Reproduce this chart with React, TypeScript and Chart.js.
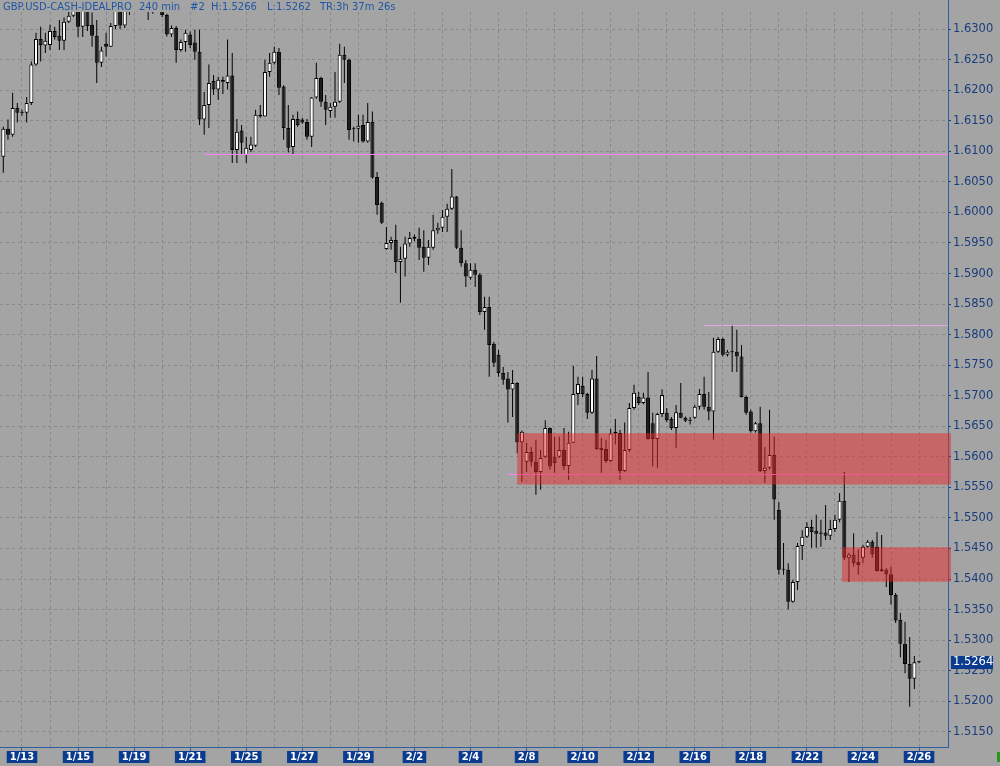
import React, { useEffect, useRef } from 'react';
import { Chart, registerables } from 'chart.js';
Chart.register(...registerables);

// ---- Data (240-min bars, GBP/USD) ----
const opens = [
  1.6091, 1.6137, 1.6127, 1.6171, 1.6163, 1.6163, 1.6179, 1.6242, 1.6284, 1.6273,
  1.6274, 1.6297, 1.6289, 1.6281, 1.6312, 1.6322, 1.6345, 1.6304, 1.6340, 1.6307,
  1.6289, 1.6245, 1.6276, 1.6271, 1.6305, 1.6338, 1.6306, 1.6345, 1.6338, 1.6360,
  1.6385, 1.6372, 1.6350, 1.6368, 1.6355, 1.6323, 1.6291, 1.6302, 1.6266, 1.6279,
  1.6291, 1.6278, 1.6263, 1.6152, 1.6176, 1.6215, 1.6201, 1.6217, 1.6212, 1.6224,
  1.6102, 1.6134, 1.6094, 1.6102, 1.6109, 1.6160, 1.6157, 1.6230, 1.6245, 1.6263,
  1.6206, 1.6138, 1.6107, 1.6153, 1.6152, 1.6148, 1.6124, 1.6188, 1.6220, 1.6181,
  1.6166, 1.6173, 1.6181, 1.6258, 1.6250, 1.6137, 1.6137, 1.6143, 1.6116, 1.6148,
  1.6058, 1.6016, 1.5940, 1.5950, 1.5955, 1.5919, 1.5924, 1.5949, 1.5960, 1.5957,
  1.5944, 1.5926, 1.5942, 1.5971, 1.5975, 1.5993, 1.6006, 1.6026, 1.5942, 1.5917,
  1.5893, 1.5906, 1.5898, 1.5837, 1.5845, 1.5785, 1.5767, 1.5737, 1.5728, 1.5710,
  1.5721, 1.5624, 1.5592, 1.5608, 1.5592, 1.5575, 1.5600, 1.5647, 1.5600, 1.5600,
  1.5611, 1.5585, 1.5623, 1.5703, 1.5716, 1.5703, 1.5672, 1.5728, 1.5615, 1.5613,
  1.5593, 1.5638, 1.5639, 1.5577, 1.5611, 1.5680, 1.5698, 1.5688, 1.5697, 1.5655,
  1.5629, 1.5670, 1.5672, 1.5662, 1.5647, 1.5672, 1.5664, 1.5660, 1.5664, 1.5682,
  1.5703, 1.5682, 1.5674, 1.5772, 1.5793, 1.5767, 1.5772, 1.5772, 1.5764, 1.5698,
  1.5674, 1.5642, 1.5655, 1.5577, 1.5582, 1.5603, 1.5513, 1.5416, 1.5415, 1.5363,
  1.5395, 1.5454, 1.5469, 1.5485, 1.5479, 1.5474, 1.5476, 1.5471, 1.5482, 1.5497,
  1.5528, 1.5435, 1.5440, 1.5428, 1.5435, 1.5453, 1.5461, 1.5453, 1.5416, 1.5415,
  1.5408, 1.5374, 1.5333, 1.5294, 1.5261, 1.5237, 1.5264,
];
const highs = [
  1.6140, 1.6152, 1.6196, 1.6179, 1.6168, 1.6189, 1.6247, 1.6294, 1.6304, 1.6294,
  1.6307, 1.6304, 1.6315, 1.6319, 1.6335, 1.6345, 1.6352, 1.6350, 1.6348, 1.6327,
  1.6315, 1.6271, 1.6294, 1.6310, 1.6348, 1.6345, 1.6350, 1.6360, 1.6370, 1.6400,
  1.6410, 1.6390, 1.6380, 1.6385, 1.6365, 1.6325, 1.6306, 1.6305, 1.6283, 1.6299,
  1.6296, 1.6299, 1.6299, 1.6197, 1.6242, 1.6225, 1.6222, 1.6222, 1.6283, 1.6261,
  1.6153, 1.6143, 1.6124, 1.6124, 1.6168, 1.6176, 1.6250, 1.6261, 1.6271, 1.6269,
  1.6208, 1.6176, 1.6160, 1.6165, 1.6155, 1.6153, 1.6189, 1.6245, 1.6222, 1.6192,
  1.6179, 1.6230, 1.6276, 1.6271, 1.6252, 1.6140, 1.6160, 1.6160, 1.6179, 1.6165,
  1.6066, 1.6018, 1.5976, 1.5960, 1.5980, 1.5944, 1.5960, 1.5968, 1.5964, 1.5975,
  1.5971, 1.5955, 1.5996, 1.5983, 1.6004, 1.6014, 1.6071, 1.6027, 1.5971, 1.5922,
  1.5917, 1.5917, 1.5901, 1.5862, 1.5862, 1.5788, 1.5775, 1.5747, 1.5739, 1.5742,
  1.5722, 1.5643, 1.5623, 1.5616, 1.5628, 1.5611, 1.5660, 1.5648, 1.5633, 1.5633,
  1.5647, 1.5641, 1.5749, 1.5731, 1.5731, 1.5705, 1.5742, 1.5765, 1.5631, 1.5628,
  1.5646, 1.5662, 1.5644, 1.5656, 1.5688, 1.5718, 1.5706, 1.5705, 1.5739, 1.5672,
  1.5672, 1.5710, 1.5680, 1.5665, 1.5685, 1.5721, 1.5666, 1.5665, 1.5685, 1.5711,
  1.5731, 1.5706, 1.5795, 1.5796, 1.5795, 1.5775, 1.5816, 1.5808, 1.5783, 1.5700,
  1.5677, 1.5657, 1.5682, 1.5616, 1.5677, 1.5633, 1.5526, 1.5459, 1.5426, 1.5399,
  1.5459, 1.5480, 1.5493, 1.5497, 1.5505, 1.5497, 1.5521, 1.5497, 1.5505, 1.5541,
  1.5575, 1.5443, 1.5475, 1.5448, 1.5456, 1.5464, 1.5464, 1.5477, 1.5472, 1.5418,
  1.5420, 1.5377, 1.5345, 1.5330, 1.5305, 1.5274, 1.5266,
];
const lows = [
  1.6065, 1.6119, 1.6124, 1.6147, 1.6158, 1.6147, 1.6176, 1.6240, 1.6247, 1.6261,
  1.6266, 1.6283, 1.6266, 1.6266, 1.6310, 1.6320, 1.6287, 1.6287, 1.6297, 1.6271,
  1.6212, 1.6238, 1.6255, 1.6271, 1.6300, 1.6300, 1.6302, 1.6323, 1.6332, 1.6350,
  1.6360, 1.6315, 1.6325, 1.6335, 1.6320, 1.6288, 1.6287, 1.6245, 1.6263, 1.6263,
  1.6269, 1.6250, 1.6143, 1.6127, 1.6138, 1.6192, 1.6184, 1.6194, 1.6201, 1.6081,
  1.6081, 1.6094, 1.6081, 1.6099, 1.6107, 1.6155, 1.6157, 1.6222, 1.6242, 1.6192,
  1.6119, 1.6098, 1.6094, 1.6140, 1.6145, 1.6119, 1.6107, 1.6186, 1.6173, 1.6143,
  1.6155, 1.6155, 1.6179, 1.6212, 1.6119, 1.6116, 1.6114, 1.6114, 1.6114, 1.6055,
  1.5996, 1.5981, 1.5939, 1.5939, 1.5901, 1.5852, 1.5895, 1.5944, 1.5953, 1.5922,
  1.5903, 1.5914, 1.5939, 1.5965, 1.5968, 1.5968, 1.6004, 1.5940, 1.5911, 1.5878,
  1.5890, 1.5878, 1.5832, 1.5808, 1.5731, 1.5747, 1.5731, 1.5718, 1.5656, 1.5665,
  1.5606, 1.5559, 1.5575, 1.5584, 1.5538, 1.5546, 1.5598, 1.5579, 1.5574, 1.5598,
  1.5579, 1.5562, 1.5623, 1.5685, 1.5698, 1.5662, 1.5670, 1.5611, 1.5574, 1.5590,
  1.5592, 1.5620, 1.5562, 1.5575, 1.5608, 1.5677, 1.5685, 1.5686, 1.5628, 1.5584,
  1.5582, 1.5665, 1.5657, 1.5644, 1.5615, 1.5663, 1.5657, 1.5653, 1.5662, 1.5677,
  1.5677, 1.5660, 1.5628, 1.5770, 1.5764, 1.5764, 1.5739, 1.5739, 1.5697, 1.5669,
  1.5640, 1.5640, 1.5575, 1.5557, 1.5579, 1.5497, 1.5407, 1.5407, 1.5350, 1.5361,
  1.5382, 1.5431, 1.5467, 1.5451, 1.5451, 1.5453, 1.5464, 1.5464, 1.5477, 1.5493,
  1.5431, 1.5395, 1.5420, 1.5407, 1.5426, 1.5451, 1.5435, 1.5412, 1.5412, 1.5387,
  1.5358, 1.5328, 1.5272, 1.5246, 1.5191, 1.5220, 1.5262,
];
const closes = [
  1.6137, 1.6127, 1.6171, 1.6163, 1.6164, 1.6179, 1.6242, 1.6284, 1.6274, 1.6281,
  1.6297, 1.6287, 1.6281, 1.6312, 1.6322, 1.6338, 1.6304, 1.6340, 1.6305, 1.6289,
  1.6245, 1.6265, 1.6271, 1.6305, 1.6338, 1.6306, 1.6340, 1.6338, 1.6360, 1.6385,
  1.6372, 1.6350, 1.6368, 1.6355, 1.6323, 1.6291, 1.6302, 1.6266, 1.6279, 1.6294,
  1.6274, 1.6263, 1.6152, 1.6176, 1.6212, 1.6201, 1.6217, 1.6214, 1.6224, 1.6102,
  1.6132, 1.6114, 1.6106, 1.6111, 1.6160, 1.6157, 1.6230, 1.6245, 1.6263, 1.6204,
  1.6138, 1.6106, 1.6153, 1.6143, 1.6147, 1.6124, 1.6188, 1.6220, 1.6181, 1.6168,
  1.6173, 1.6181, 1.6258, 1.6250, 1.6135, 1.6136, 1.6142, 1.6116, 1.6148, 1.6057,
  1.6012, 1.5983, 1.5950, 1.5955, 1.5919, 1.5924, 1.5949, 1.5958, 1.5957, 1.5942,
  1.5926, 1.5944, 1.5971, 1.5975, 1.5993, 1.6006, 1.6026, 1.5942, 1.5917, 1.5895,
  1.5906, 1.5898, 1.5837, 1.5845, 1.5783, 1.5754, 1.5737, 1.5726, 1.5710, 1.5721,
  1.5624, 1.5641, 1.5608, 1.5592, 1.5575, 1.5598, 1.5647, 1.5584, 1.5590, 1.5611,
  1.5585, 1.5623, 1.5703, 1.5719, 1.5703, 1.5672, 1.5728, 1.5613, 1.5611, 1.5593,
  1.5638, 1.5641, 1.5577, 1.5611, 1.5680, 1.5705, 1.5688, 1.5697, 1.5629, 1.5629,
  1.5670, 1.5701, 1.5660, 1.5647, 1.5673, 1.5664, 1.5659, 1.5659, 1.5682, 1.5703,
  1.5682, 1.5674, 1.5772, 1.5793, 1.5767, 1.5772, 1.5771, 1.5764, 1.5698, 1.5672,
  1.5642, 1.5655, 1.5577, 1.5582, 1.5603, 1.5530, 1.5415, 1.5415, 1.5363, 1.5395,
  1.5454, 1.5469, 1.5485, 1.5477, 1.5474, 1.5476, 1.5471, 1.5482, 1.5497, 1.5528,
  1.5435, 1.5440, 1.5426, 1.5423, 1.5453, 1.5461, 1.5440, 1.5413, 1.5413, 1.5408,
  1.5374, 1.5332, 1.5294, 1.5261, 1.5237, 1.5264, 1.5264,
];

// date tick labels and the bar index where each begins
const dateLabels = ['1/13', '1/15', '1/19', '1/21', '1/25', '1/27', '1/29', '2/2', '2/4', '2/8', '2/10', '2/12', '2/16', '2/18', '2/22', '2/24', '2/26'];
const labelBars = [4, 16, 28, 40, 52, 64, 76, 88, 100, 112, 124, 136, 148, 160, 172, 184, 196];
const priceTicks = [1.515, 1.52, 1.525, 1.53, 1.535, 1.54, 1.545, 1.55, 1.555, 1.56, 1.565, 1.57, 1.575, 1.58, 1.585, 1.59, 1.595, 1.6, 1.605, 1.61, 1.615, 1.62, 1.625, 1.63];

// horizontal level lines (price, starting bar)
const lineLevels = [1.60953, 1.58159, 1.55721];
const lineStartBars = [43, 150, 108];
// shaded zones (top price, bottom price, starting bar)
const zoneTops = [1.56386, 1.54519];
const zoneBottoms = [1.55547, 1.53956];
const zoneStartBars = [110, 179.5];

const titleParts = ['GBP.USD-CASH-IDEALPRO', '240 min', '#2', 'H:1.5266', 'L:1.5262', 'TR:3h 37m 26s'];

const Y_MIN = 1.51251;
const Y_MAX = 1.6328;
const X_MIN = -0.706;
const X_MAX = 202.2;

const BG = '#a4a4a4';
const GRID = '#898989';
const AXIS_BLUE = '#2d5fa0';
const LABEL_BLUE = '#1a3d7c';
const BOX_BLUE = '#0b3b8f';
const LINE_COLORS = ['#ff80ff', '#e2a6e2', '#ff80ff'];
const ZONE_COLOR = 'rgba(232, 40, 40, 0.5)';

export default function App() {
  const ref = useRef<HTMLCanvasElement | null>(null);

  useEffect(() => {
    document.body.style.margin = '0';
    const canvas = ref.current;
    if (!canvas) return;

    const gridBars: number[] = [];
    labelBars.forEach((b) => {
      gridBars.push(b);
      if (b + 6 <= opens.length - 1) gridBars.push(b + 6);
    });

    const wickData = highs.map((h, i) => ({ x: i, y: [lows[i], h] }));
    const bodyData = opens.map((o, i) => ({ x: i, y: [o, closes[i]] }));
    const bodyColors = opens.map((o, i) => (closes[i] >= o ? '#ffffff' : '#1c1c1c'));

    const overlay = {
      id: 'overlay',
      beforeDraw(chart: any) {
        const ctx = chart.ctx;
        ctx.save();
        ctx.fillStyle = BG;
        ctx.fillRect(0, 0, chart.width, chart.height);
        ctx.restore();
      },
      afterDatasetsDraw(chart: any) {
        const { ctx, chartArea: a, scales } = chart;
        const xs = scales.x;
        const ys = scales.y;
        ctx.save();
        ctx.beginPath();
        ctx.rect(a.left, a.top, a.right - a.left + 3, a.bottom - a.top);
        ctx.clip();
        lineLevels.forEach((lv, k) => {
          const py = Math.round(ys.getPixelForValue(lv)) + 0.5;
          const px = xs.getPixelForValue(lineStartBars[k]);
          ctx.strokeStyle = LINE_COLORS[k];
          ctx.lineWidth = 1;
          ctx.beginPath();
          ctx.moveTo(px, py);
          ctx.lineTo(a.right, py);
          ctx.stroke();
        });
        ctx.fillStyle = ZONE_COLOR;
        zoneTops.forEach((top, k) => {
          const x0 = xs.getPixelForValue(zoneStartBars[k]);
          const y0 = ys.getPixelForValue(top);
          const y1 = ys.getPixelForValue(zoneBottoms[k]);
          ctx.fillRect(x0, y0, a.right + 3 - x0, y1 - y0);
        });
        ctx.restore();
      },
      afterDraw(chart: any) {
        const { ctx, chartArea: a, scales } = chart;
        const ys = scales.y;
        ctx.save();
        // axis line continues to the top edge
        ctx.strokeStyle = AXIS_BLUE;
        ctx.lineWidth = 1;
        ctx.beginPath();
        ctx.moveTo(Math.round(a.right) + 0.5, 0);
        ctx.lineTo(Math.round(a.right) + 0.5, a.top);
        ctx.stroke();
        // title
        const titleX = [3, 139, 190, 211, 267, 320];
        ctx.font = '10px "DejaVu Sans"';
        ctx.fillStyle = '#1f57a6';
        ctx.textBaseline = 'top';
        ctx.textAlign = 'left';
        titleParts.forEach((t, k) => ctx.fillText(t, titleX[k], 2));
        // last price box
        const last = closes[closes.length - 1];
        const py = Math.round(ys.getPixelForValue(last));
        ctx.fillStyle = BOX_BLUE;
        ctx.fillRect(a.right + 3, py - 6, 42, 13);
        ctx.fillStyle = '#ffffff';
        ctx.font = '11.5px "DejaVu Sans"';
        ctx.textBaseline = 'middle';
        ctx.fillText(last.toFixed(4), a.right + 5, py + 0.5);
        // small status mark
        ctx.fillStyle = '#1f9a1f';
        ctx.fillRect(997, 752, 3, 10);
        ctx.restore();
      },
    };

    const chart = new Chart(canvas, {
      type: 'bar',
      data: {
        datasets: [
          {
            label: 'body',
            data: bodyData as any,
            backgroundColor: bodyColors,
            borderColor: '#000000',
            borderWidth: 1,
            borderSkipped: false,
            barThickness: 4,
            maxBarThickness: 4,
            minBarLength: 1,
            grouped: false,
            inflateAmount: 0,
            order: 0,
          } as any,
          {
            label: 'wick',
            data: wickData as any,
            backgroundColor: '#000000',
            borderWidth: 0,
            barThickness: 1,
            maxBarThickness: 1,
            grouped: false,
            inflateAmount: 0,
            order: 1,
          } as any,
        ],
      },
      options: {
        responsive: false,
        animation: false,
        events: [],
        layout: { padding: { top: 12, left: 0, right: 0, bottom: 0 } },
        plugins: { legend: { display: false }, tooltip: { enabled: false }, title: { display: false } },
        scales: {
          x: {
            type: 'linear',
            min: X_MIN,
            max: X_MAX,
            offset: false,
            afterBuildTicks: (s: any) => {
              s.ticks = gridBars.map((v) => ({ value: v }));
            },
            afterFit: (s: any) => {
              s.height = 19;
            },
            grid: {
              color: GRID,
              lineWidth: 1,
              tickLength: 4,
              offset: false,
              tickColor: (c: any) => (c.tick && labelBars.includes(c.tick.value) ? AXIS_BLUE : 'rgba(0,0,0,0)'),
            },
            border: { color: AXIS_BLUE, width: 1, dash: [3, 3] },
            ticks: {
              autoSkip: false,
              maxRotation: 0,
              minRotation: 0,
              padding: 0,
              color: '#ffffff',
              font: { family: 'DejaVu Sans', size: 10, weight: 'bold' },
              callback: (v: any) => {
                const k = labelBars.indexOf(Number(v));
                return k >= 0 ? dateLabels[k] : '';
              },
              showLabelBackdrop: (c: any) => !!(c.tick && labelBars.includes(c.tick.value)),
              backdropColor: BOX_BLUE,
              backdropPadding: { top: 0, bottom: 0, left: 3, right: 3 },
            },
          } as any,
          y: {
            type: 'linear',
            position: 'right',
            min: Y_MIN,
            max: Y_MAX,
            afterBuildTicks: (s: any) => {
              s.ticks = priceTicks.map((v) => ({ value: v }));
            },
            afterFit: (s: any) => {
              s.width = 52;
            },
            grid: { color: GRID, lineWidth: 1, tickLength: 3, tickColor: LABEL_BLUE },
            border: { color: AXIS_BLUE, width: 1, dash: [3, 3] },
            ticks: {
              autoSkip: false,
              padding: 2,
              color: LABEL_BLUE,
              font: { family: 'DejaVu Sans', size: 11.5 },
              callback: (v: any) => Number(v).toFixed(4),
            },
          } as any,
        },
      },
      plugins: [overlay],
    });

    return () => chart.destroy();
  }, []);

  return <canvas ref={ref} width={1000} height={766} style={{ display: 'block' }} />;
}
